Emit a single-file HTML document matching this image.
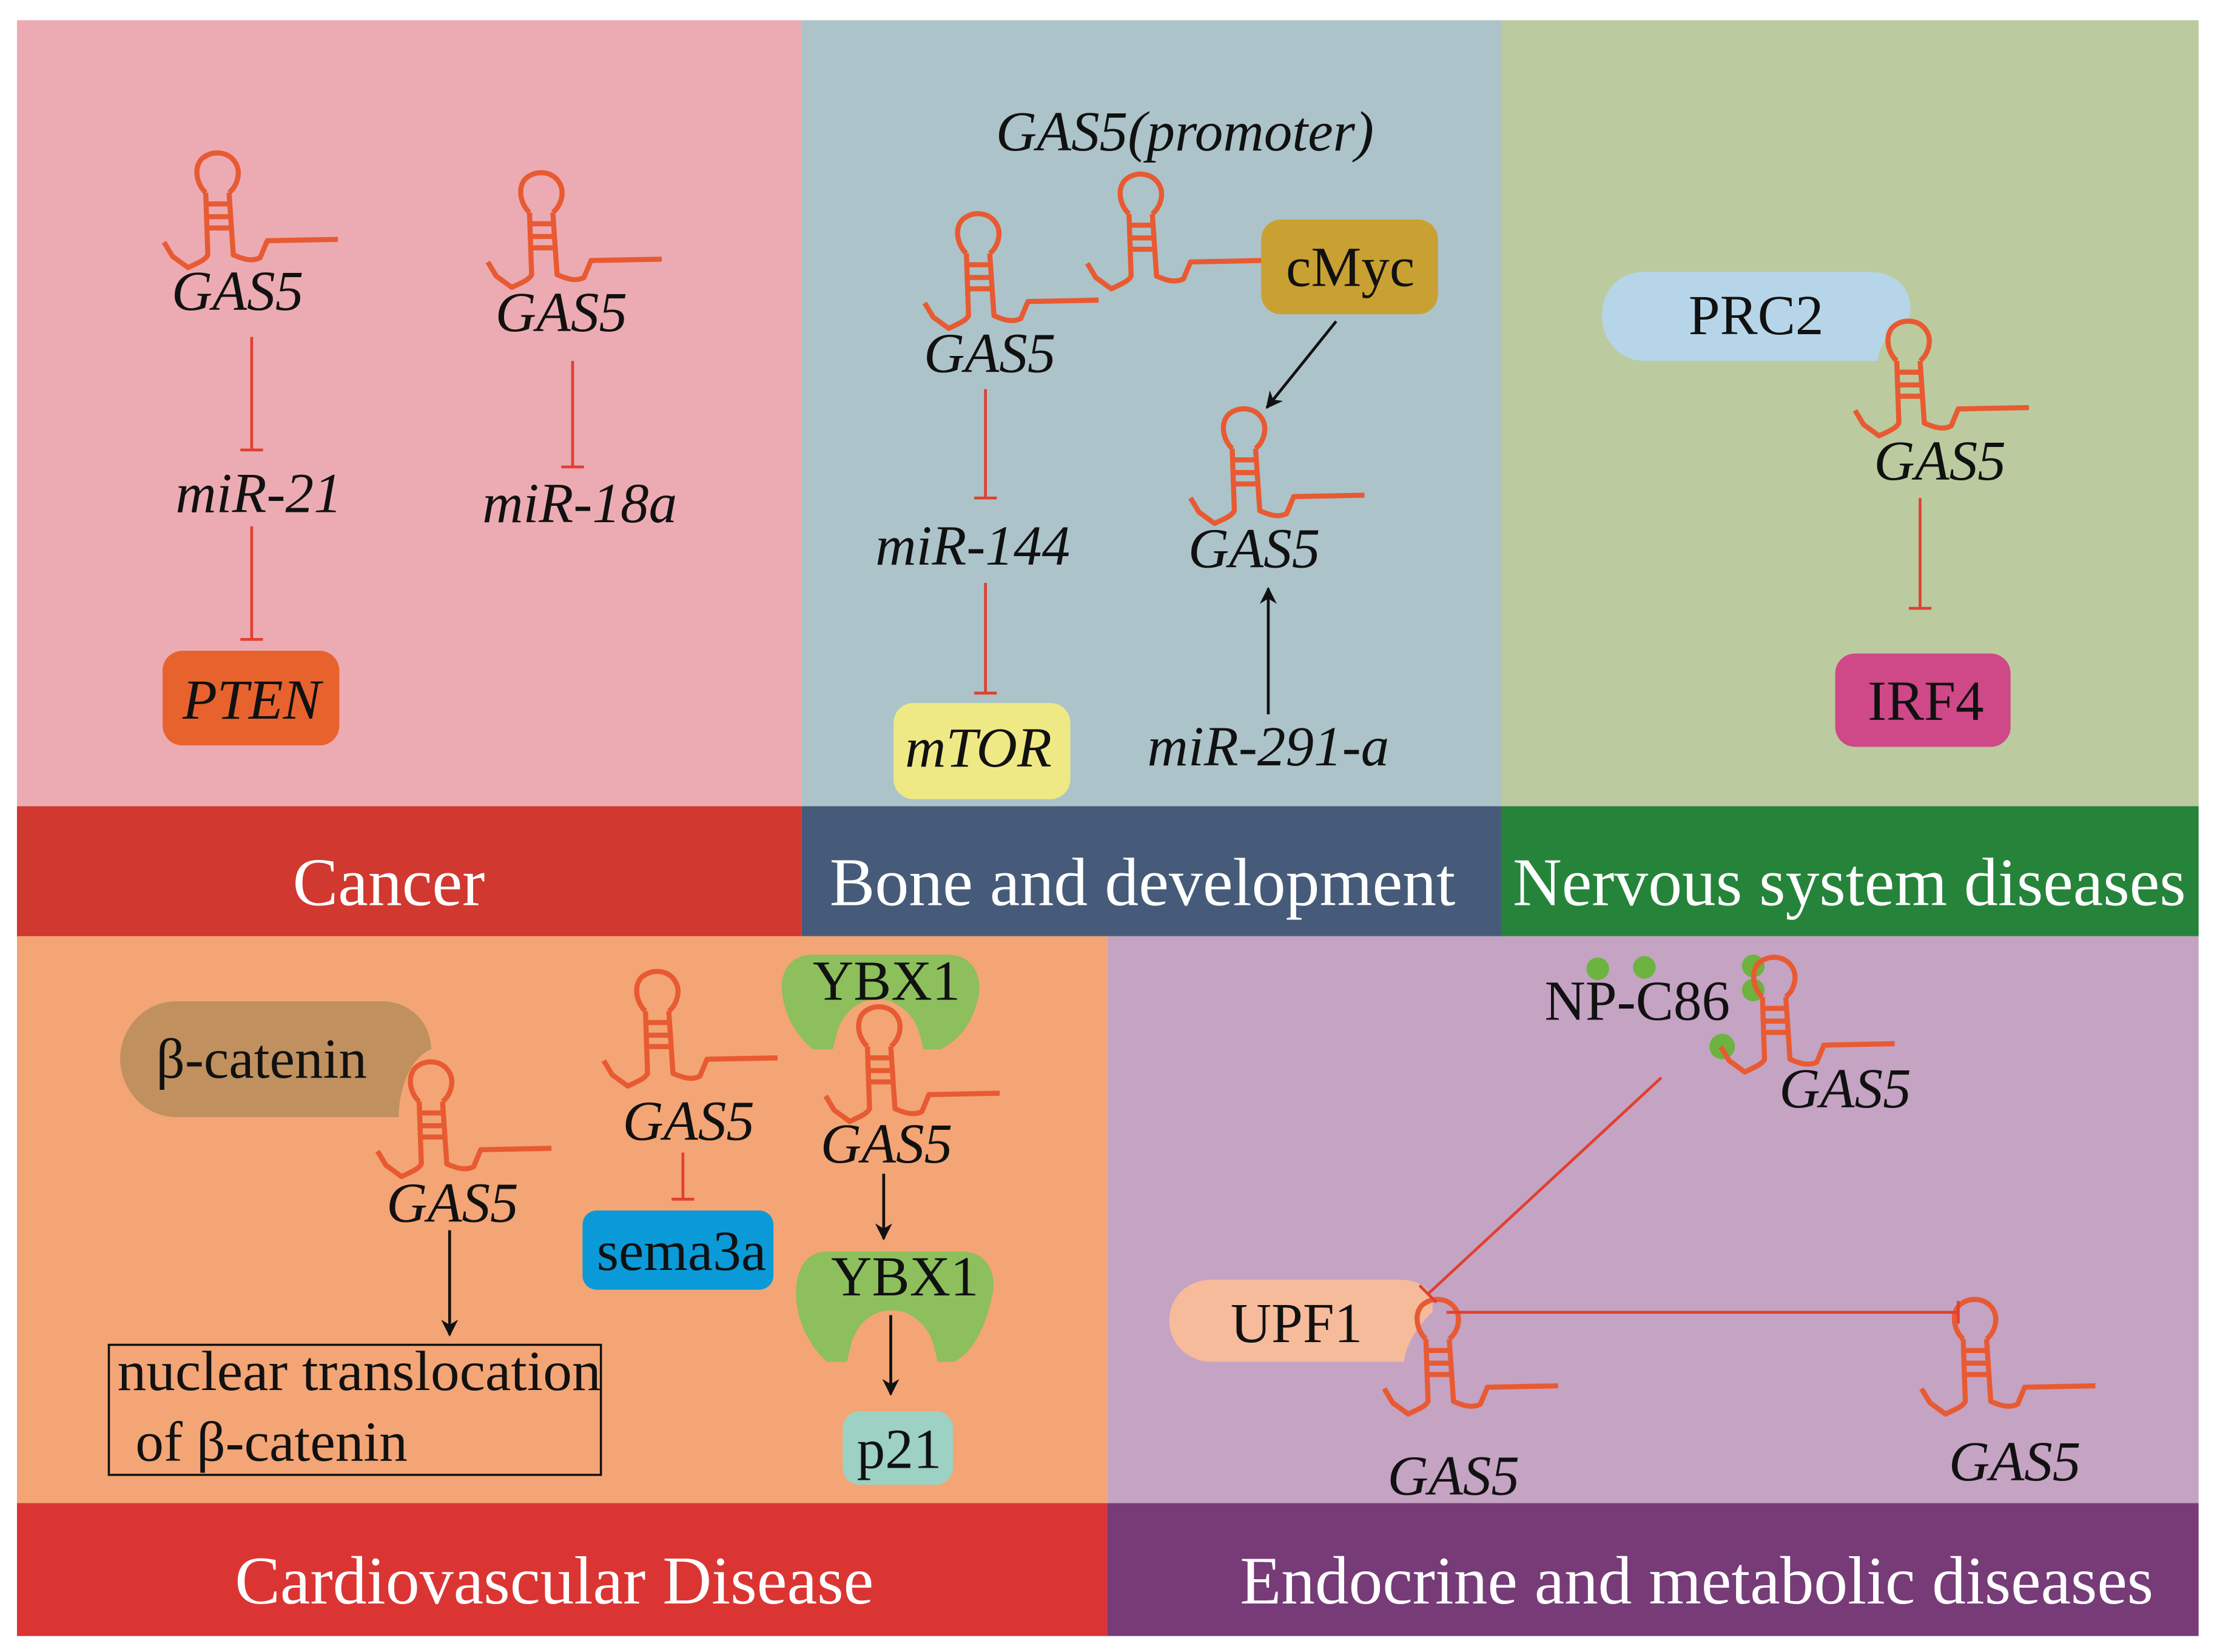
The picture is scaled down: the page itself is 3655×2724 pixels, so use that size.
<!DOCTYPE html>
<html><head><meta charset="utf-8"><style>
html,body{margin:0;padding:0;background:#fff;}
svg{display:block;}
text{font-family:"Liberation Serif",serif;}
.it{font-style:italic;}
</style></head><body>
<svg width="3655" height="2724" viewBox="0 0 1568 1168" xmlns="http://www.w3.org/2000/svg">
<defs>
<g id="rna" fill="none" stroke="#e85a32" stroke-width="3.6" stroke-linejoin="round" stroke-linecap="butt">
<path d="M-8.5,12 C-16,5 -17,-8 -10,-13 C-3,-18 7,-17 12,-10 C17,-3 14,7 8,12"/>
<path d="M-8.5,12 L-7,56 C-9,60 -15,62 -21,65 L-32,57 L-38,47"/>
<path d="M8,12 L11,56 C18,59 24,61 30,58 L35,46 L85,45"/>
<path d="M-8,20 L10,20 M-8,29 L10,29 M-8,37 L10,37"/>
</g>
<marker id="ah" viewBox="0 0 10 10" refX="9" refY="5" markerWidth="6" markerHeight="6" orient="auto"><path d="M0,0 L10,5 L0,10 L3,5 z" fill="#111"/></marker>
</defs>
<rect x="12" y="14" width="555" height="556" fill="#ecabb2"/>
<rect x="567" y="14" width="495" height="556" fill="#acc3c9"/>
<rect x="1062" y="14" width="493" height="556" fill="#bbcb9f"/>
<rect x="12" y="570" width="555" height="92" fill="#d1382f"/>
<rect x="567" y="570" width="495" height="92" fill="#465b79"/>
<rect x="1062" y="570" width="493" height="92" fill="#25843a"/>
<rect x="12" y="662" width="771" height="401" fill="#f3a575"/>
<rect x="783" y="662" width="772" height="401" fill="#c5a3c3"/>
<rect x="12" y="1063" width="771" height="94" fill="#db3533"/>
<rect x="783" y="1063" width="772" height="94" fill="#773b78"/>
<g fill="#fff" font-size="48" text-anchor="middle">
<text x="275" y="640">Cancer</text>
<text x="808" y="640">Bone and development</text>
<text x="1308" y="640" textLength="476" lengthAdjust="spacingAndGlyphs">Nervous system diseases</text>
<text x="392" y="1134">Cardiovascular Disease</text>
<text x="1200" y="1134" textLength="646" lengthAdjust="spacingAndGlyphs">Endocrine and metabolic diseases</text>
</g>
<rect x="115" y="460" width="125" height="67" rx="14" fill="#e8622e"/>
<rect x="632" y="497" width="125" height="68" rx="14" fill="#efe985"/>
<rect x="892" y="155" width="125" height="67" rx="14" fill="#c9a032"/>
<rect x="1298" y="462" width="124" height="66" rx="14" fill="#cf4888"/>
<path d="M1163,192 L1322,192 C1345,192 1355,210 1350,225 C1340,230 1330,240 1328,255 L1163,255 C1145,255 1133,240 1133,223 C1133,205 1145,192 1163,192 Z" fill="#b6d5e8"/>
<path d="M125,708 L270,708 C292,708 305,725 305,742 C290,748 282,770 282,790 L125,790 C102,790 85,770 85,749 C85,727 102,708 125,708 Z" fill="#c0915f"/>
<rect x="412" y="856" width="135" height="56" rx="10" fill="#0a9ad8"/>
<rect x="596" y="998" width="78" height="52" rx="12" fill="#9cd1c3"/>
<path d="M575,675 L670,675 C688,675 695,690 692,705 C688,722 680,735 665,742 L653,742 C650,725 645,715 630,708 C612,703 598,712 592,730 L589,742 L575,742 C560,730 553,712 553,698 C553,683 562,675 575,675 Z" fill="#8dbf5c"/>
<path d="M585,885 L680,885 C698,885 705,900 702,915 C698,935 690,955 675,963 L663,963 C660,945 655,935 640,928 C622,923 608,932 602,950 L599,963 L585,963 C570,950 563,930 563,915 C563,895 572,885 585,885 Z" fill="#8dbf5c"/>
<path d="M857,905 L990,905 C1008,905 1015,915 1013,928 C1005,935 995,948 993,963 L857,963 C840,963 827,950 827,934 C827,917 840,905 857,905 Z" fill="#f6bb9a"/>
<rect x="77" y="951" width="348" height="92" fill="none" stroke="#111" stroke-width="1.5"/>
<g fill="#6cb33f"><circle cx="1130" cy="685" r="8"/><circle cx="1163" cy="684" r="8"/><circle cx="1240" cy="683" r="8"/><circle cx="1240" cy="700" r="8"/><circle cx="1218" cy="740" r="9"/></g>
<use href="#rna" x="154" y="124"/>
<use href="#rna" x="383" y="138"/>
<use href="#rna" x="692" y="167"/>
<use href="#rna" x="807" y="139"/>
<use href="#rna" x="880" y="305"/>
<use href="#rna" x="1350" y="243"/>
<use href="#rna" x="305" y="767"/>
<use href="#rna" x="465" y="703"/>
<use href="#rna" x="622" y="728"/>
<use href="#rna" x="1255" y="693"/>
<use href="#rna" x="1017" y="935"/>
<use href="#rna" x="1397" y="935"/>
<g stroke="#e04030" stroke-width="2" fill="none">
<path d="M178,238 V318 M170,318 H186"/>
<path d="M178,372 V452 M170,452 H186"/>
<path d="M405,255 V330 M397,330 H413"/>
<path d="M697,275 V352 M689,352 H705"/>
<path d="M697,412 V490 M689,490 H705"/>
<path d="M1358,352 V430 M1350,430 H1366"/>
<path d="M483,815 V848 M475,848 H491"/>
<path d="M1175,762 L1010,915 M1004,909 L1016,921"/>
<path d="M1023,928 H1385 M1385,920 V936"/>
</g>
<g stroke="#111" stroke-width="2" fill="none" marker-end="url(#ah)">
<path d="M945,227 L896,288"/>
<path d="M897,505 V416"/>
<path d="M318,870 V944"/>
<path d="M625,830 V876"/>
<path d="M630,930 V986"/>
</g>
<g fill="#111" font-size="40" text-anchor="middle">
<g class="it">
<text x="168" y="219">GAS5</text>
<text x="397" y="234">GAS5</text>
<text x="700" y="263">GAS5</text>
<text x="838" y="106">GAS5(promoter)</text>
<text x="887" y="401">GAS5</text>
<text x="1372" y="339">GAS5</text>
<text x="320" y="864">GAS5</text>
<text x="487" y="806">GAS5</text>
<text x="627" y="822">GAS5</text>
<text x="1305" y="783">GAS5</text>
<text x="1028" y="1057">GAS5</text>
<text x="1425" y="1047">GAS5</text>
<text x="183" y="362">miR-21</text>
<text x="410" y="369">miR-18a</text>
<text x="688" y="399">miR-144</text>
<text x="897" y="541">miR-291-a</text>
<text x="178" y="508">PTEN</text>
<text x="692" y="542">mTOR</text>
</g>
<text x="955" y="202">cMyc</text>
<text x="1242" y="236">PRC2</text>
<text x="1362" y="509">IRF4</text>
<text x="185" y="762">β-catenin</text>
<text x="482" y="898">sema3a</text>
<text x="627" y="707">YBX1</text>
<text x="640" y="916">YBX1</text>
<text x="636" y="1038">p21</text>
<text x="1158" y="721">NP-C86</text>
<text x="917" y="949">UPF1</text>
<text x="254" y="983" textLength="342" lengthAdjust="spacingAndGlyphs">nuclear translocation</text>
<text x="192" y="1033">of β-catenin</text>
</g>
</svg>
</body></html>
